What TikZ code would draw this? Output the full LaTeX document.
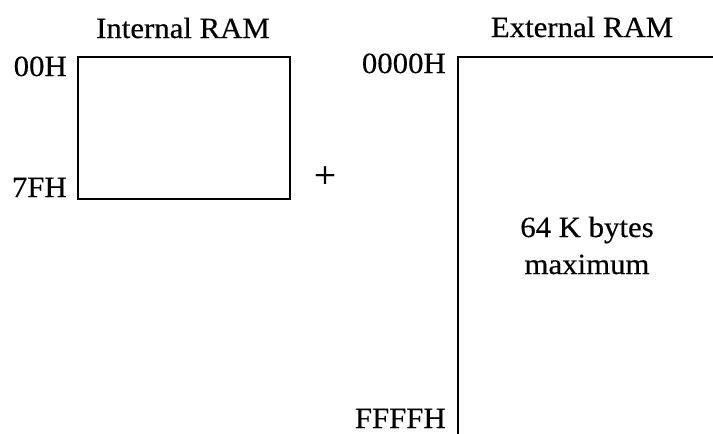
\documentclass[tikz,border=0pt]{standalone}
\usepackage{fontspec}
\setmainfont[FakeStretch=1.05,FakeBold=0.4]{Liberation Serif}
\usetikzlibrary{positioning}

\begin{document}
\begin{tikzpicture}[x=0.75pt,y=-0.75pt,
 membox/.style={draw=black,line width=1.6pt,inner sep=0pt},
 addr/.style={anchor=base east,inner sep=0pt,
   font=\fontsize{22}{26}\selectfont},
 label/.style={anchor=base,inner sep=0pt,
   font=\fontsize{22}{26}\selectfont}
]
\useasboundingbox (0,0) rectangle (713,433);
\clip (0,0) rectangle (713,433);

% internal RAM
\node[membox,minimum width=159pt,minimum height=106.5pt] (intram) at (184,128) {};
\node[label] (inttitle) at (183,38) {Internal RAM};
\node[addr] (intlow) at (67,76) {00H};
\node[addr] (inthigh) at (67,197) {7FH};

\node[inner sep=0pt,font=\fontsize{28}{30}\selectfont] (plus) at (325,177) {+};

% external RAM (runs past the page edge)
\node[membox,line width=2pt,minimum width=226.5pt,minimum height=317.25pt] (extram) at (609,268.5) {};
\node[label] (exttitle) at (582,37) {External RAM};
\node[addr] (extlow) at (446,73) {0000H};
\node[addr] (exthigh) at (446,428) {FFFFH};
\node[label] (extsize) at (587,237) {64 K bytes};
\node[label] (extmax) at (587,274) {maximum};
\end{tikzpicture}
\end{document}
